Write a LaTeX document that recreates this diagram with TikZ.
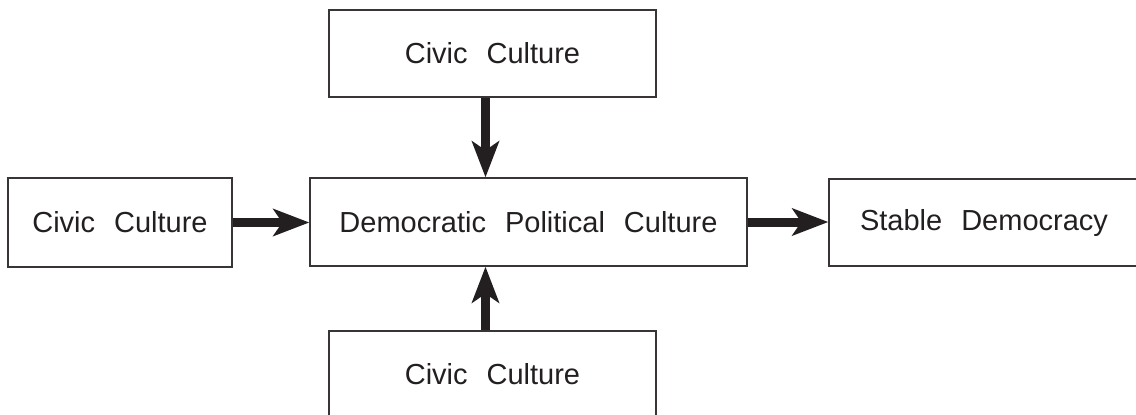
\documentclass[tikz,border=0pt]{standalone}
\usepackage{fontspec}
\setmainfont{Liberation Sans}
\usetikzlibrary{arrows.meta}
\definecolor{ink}{HTML}{231F20}
\newcommand\wgap{\hspace{19pt}}
\tikzset{
  box/.style={draw=ink!90, line width=1.3pt, inner sep=0pt, font=\fontsize{29}{34}\selectfont, text=ink},
  arr/.style={draw=ink, line width=9pt, -{Stealth[length=36pt, width=27pt, inset=9pt]}}
}
\begin{document}
\begin{tikzpicture}[x=1pt, y=-1pt]
\useasboundingbox (0,0) rectangle (1136,415);
\node[box, minimum width=327pt, minimum height=87pt] (top) at (492.5,53.5) {Civic\wgap Culture};
\node[box, minimum width=224pt, minimum height=89pt] (left) at (120,222.5) {Civic\wgap Culture};
\node[box, minimum width=437pt, minimum height=88pt] (mid) at (528.5,222) {Democratic\wgap Political\wgap Culture};
\node[box, minimum width=310pt, minimum height=87pt] (right) at (984,222.5) {Stable\wgap Democracy};
\node[box, minimum width=327pt, minimum height=87pt] (bot) at (492.5,374.5) {Civic\wgap Culture};
\coordinate (ax) at (485.5,0);
\draw[arr] (top.south -| ax) -- (mid.north -| ax);
\draw[arr] (bot.north -| ax) -- (mid.south -| ax);
\draw[arr] (left.east) -- (mid.west |- left.east);
\draw[arr] (mid.east) -- (right.west |- mid.east);
\end{tikzpicture}
\end{document}
